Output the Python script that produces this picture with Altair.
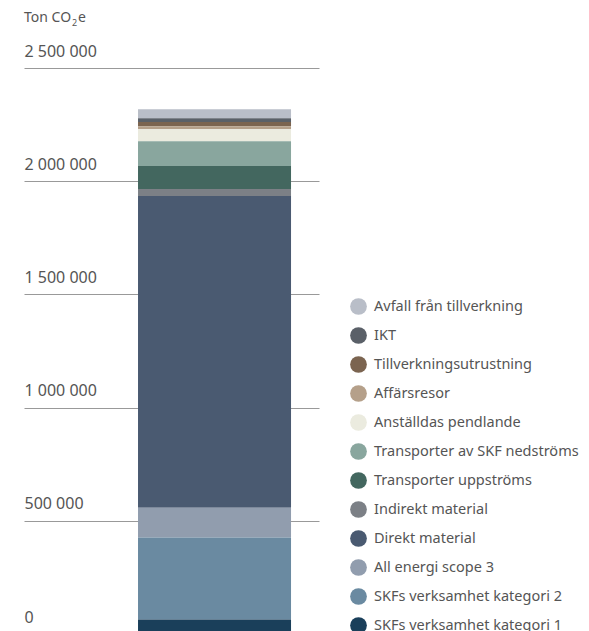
import altair as alt
import pandas as pd

categories = [
    "Avfall från tillverkning",
    "IKT",
    "Tillverkningsutrustning",
    "Affärsresor",
    "Anställdas pendlande",
    "Transporter av SKF nedströms",
    "Transporter uppströms",
    "Indirekt material",
    "Direkt material",
    "All energi scope 3",
    "SKFs verksamhet kategori 2",
    "SKFs verksamhet kategori 1",
]
values = [40000, 16000, 19000, 13000, 53000, 110000, 101000, 31000, 1377000, 132000, 362000, 64000]
colors = [
    "#b9bec8", "#5a6068", "#7b6450", "#b5a08a", "#ebebdf", "#89a69e",
    "#43675f", "#7c8086", "#4a5a71", "#919dae", "#6a8aa1", "#1a3f5a",
]
stack_rank = list(range(len(categories) - 1, -1, -1))
bar_label = ["Total"] * len(categories)
y_ticks = [0, 500000, 1000000, 1500000, 2000000, 2500000]
unit_parts = ["Ton CO", "2", "e"]

FONT = "Noto Sans"
TXT = "#555555"

df = pd.DataFrame({"category": categories, "value": values, "rank": stack_rank, "bar": bar_label})

bar = alt.Chart(df).mark_bar().encode(
    x=alt.X("bar:N", axis=None,
            scale=alt.Scale(paddingInner=0, paddingOuter=0.464, align=0.803)),
    y=alt.Y("value:Q", stack="zero",
            scale=alt.Scale(domain=[0, 2500000], nice=False),
            axis=alt.Axis(values=y_ticks, grid=True, gridColor="#999999", gridWidth=1,
                          domain=False, ticks=False, tickSize=0,
                          labelAlign="left", labelBaseline="alphabetic",
                          labelPadding=0, labelOffset=-12, labelFlush=False,
                          labelExpr="replace(format(datum.value, ','), /,/g, ' ')",
                          labelFontSize=16, labelFont=FONT, labelColor=TXT,
                          title=None)),
    color=alt.Color("category:N",
                    scale=alt.Scale(domain=categories, range=colors),
                    legend=alt.Legend(orient="none", legendX=326, legendY=230,
                                      title=None, symbolType="circle", symbolSize=280,
                                      symbolStrokeWidth=0, labelFontSize=14.5,
                                      labelFont=FONT, labelColor=TXT, labelOffset=7,
                                      rowPadding=12, padding=0, labelLimit=300)),
    order=alt.Order("rank:Q", sort="ascending"),
)

title_main = alt.Chart(pd.DataFrame({"t": [unit_parts[0]]})).mark_text(
    align="left", baseline="alphabetic", fontSize=14, font=FONT, color=TXT
).encode(text="t:N", x=alt.value(0), y=alt.value(-46))
title_sub = alt.Chart(pd.DataFrame({"t": [unit_parts[1]]})).mark_text(
    align="left", baseline="alphabetic", fontSize=9, font=FONT, color=TXT
).encode(text="t:N", x=alt.value(48), y=alt.value(-42))
title_end = alt.Chart(pd.DataFrame({"t": [unit_parts[2]]})).mark_text(
    align="left", baseline="alphabetic", fontSize=14, font=FONT, color=TXT
).encode(text="t:N", x=alt.value(54), y=alt.value(-46))

chart = alt.layer(bar, title_main, title_sub, title_end).properties(
    width=295, height=566,
    padding={"left": 16, "top": 60, "right": 262, "bottom": 0},
    autosize="none",
).configure_view(stroke=None)

chart.save("out.html", embed_options={"renderer": "svg", "actions": False})
